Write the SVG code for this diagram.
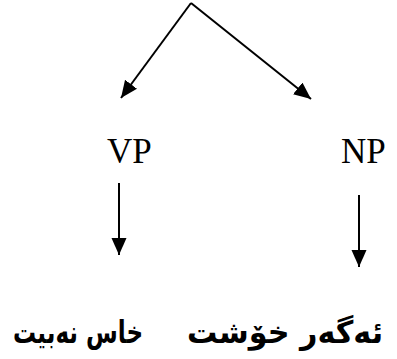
<svg xmlns="http://www.w3.org/2000/svg" width="397" height="359" viewBox="0 0 397 359">
<style>
.lbl{font-family:"Liberation Serif","Times New Roman",serif;font-size:35px;fill:#000}
.ku{font-family:"DejaVu Sans",sans-serif;font-size:31px;font-weight:bold;fill:#000}
.cn{stroke:#000;stroke-width:2;fill:none}
</style>
<defs>
<marker id="ah" markerUnits="userSpaceOnUse" markerWidth="18" markerHeight="16" refX="17" refY="7.5" orient="auto">
<path d="M0,0 L17,7.5 L0,15 z" fill="#000"/>
</marker>
</defs>
<g id="connectors">
<line class="cn" x1="191" y1="3" x2="121" y2="98" marker-end="url(#ah)"/>
<line class="cn" x1="191" y1="3" x2="311" y2="99" marker-end="url(#ah)"/>
<line class="cn" x1="119" y1="183" x2="119" y2="255" marker-end="url(#ah)"/>
<line class="cn" x1="359" y1="195" x2="359" y2="267" marker-end="url(#ah)"/>
</g>
<g id="vp"><text class="lbl" x="107" y="163">VP</text></g>
<g id="np"><text class="lbl" x="341" y="163">NP</text></g>
<g id="np-word"><text class="ku" x="383" y="343" direction="rtl" text-anchor="start" textLength="196" lengthAdjust="spacingAndGlyphs">ئەگەر خۆشت</text></g>
<g id="vp-word"><text class="ku" x="143" y="343" direction="rtl" text-anchor="start" textLength="130" lengthAdjust="spacingAndGlyphs">خاس نەبيت</text></g>
</svg>
